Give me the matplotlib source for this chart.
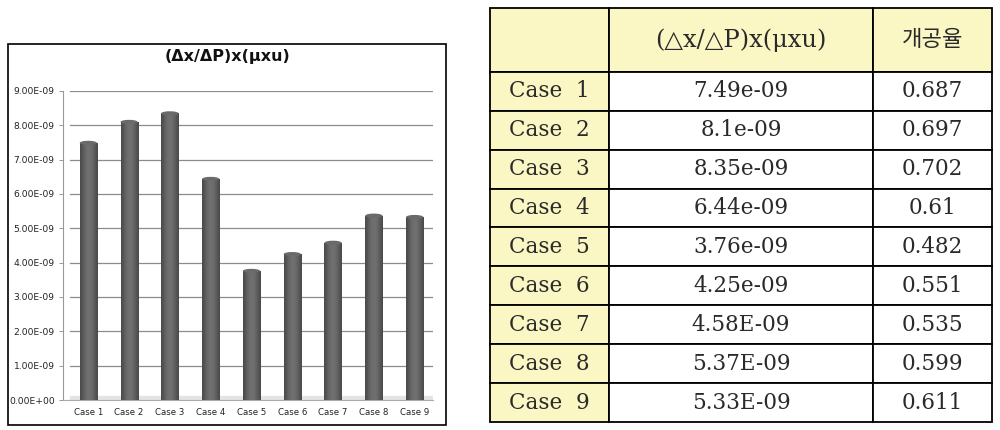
import matplotlib
matplotlib.use("Agg")
import matplotlib.pyplot as plt
import numpy as np
from matplotlib.patches import Rectangle, Ellipse

cases = ["Case 1", "Case 2", "Case 3", "Case 4", "Case 5", "Case 6", "Case 7", "Case 8", "Case 9"]
values = [7.49e-09, 8.1e-09, 8.35e-09, 6.44e-09, 3.76e-09, 4.25e-09, 4.58e-09, 5.37e-09, 5.33e-09]
value_text = ["7.49e-09", "8.1e-09", "8.35e-09", "6.44e-09", "3.76e-09", "4.25e-09",
              "4.58E-09", "5.37E-09", "5.33E-09"]
ratio_text = ["0.687", "0.697", "0.702", "0.61", "0.482", "0.551", "0.535", "0.599", "0.611"]
table_header = ["", "(\u25b3x/\u25b3P)x(\u03bcxu)", "개공율"]
chart_title = "(\u0394x/\u0394P)x(\u03bcxu)"
yticks = [i * 1e-9 for i in range(10)]
ytick_labels = ["0.00E+00", "1.00E-09", "2.00E-09", "3.00E-09", "4.00E-09",
                "5.00E-09", "6.00E-09", "7.00E-09", "8.00E-09", "9.00E-09"]

W, H = 1000, 430
fig = plt.figure(figsize=(10, 4.3), dpi=100)
fig.patch.set_facecolor("white")

def fx(px):
    return px / W

def fy(py):
    return 1 - py / H

# chart frame
frame = Rectangle((fx(8), fy(425)), fx(446 - 8), (425 - 44) / H, transform=fig.transFigure,
                  facecolor="none", edgecolor="black", linewidth=1.2, zorder=5)
fig.patches.append(frame)
fig.text(fx(227), fy(57), chart_title, ha="center", va="center", fontsize=11.5,
         fontweight="bold", family="DejaVu Sans", color="#111111")

ax = fig.add_axes([fx(63), fy(400), fx(433 - 63), (400 - 91) / H])
ax.set_facecolor("none")
x = np.arange(len(cases))
ax.set_yticks(yticks)
ax.set_yticklabels(ytick_labels, fontsize=6.6, color="#222222", family="DejaVu Sans")
ax.set_xticks(x)
ax.set_xticklabels(cases, fontsize=6.2, color="#222222", family="DejaVu Sans")
ax.tick_params(axis="y", length=3, width=0.6, color="#888888", pad=3)
ax.tick_params(axis="x", length=0, pad=6)
for s in ["top", "right"]:
    ax.spines[s].set_visible(False)
ax.spines["left"].set_color("#999999")
ax.spines["left"].set_linewidth(0.8)
ax.spines["bottom"].set_color("#aaaaaa")
ax.spines["bottom"].set_linewidth(0.8)
for t in yticks[1:]:
    ax.axhline(t, xmin=0.02, xmax=1.0, color="#8c8c8c", linewidth=0.9, zorder=1)

# floor
ax.axhspan(0, 0.12e-9, xmin=0.02, xmax=1.0, color="#e4e4e4", zorder=1)

bar_w = 0.42
bars = ax.bar(x, values, width=bar_w, color="#555555", edgecolor="none", zorder=2)
grad = np.linspace(0, 1, 64)
shade = 0.28 + 0.16 * np.sin(np.pi * (grad * 0.9 + 0.05)) ** 1.5
img = np.tile(shade, (2, 1))
for b in bars:
    x0 = b.get_x()
    im = ax.imshow(img, cmap="gray", vmin=0, vmax=1, aspect="auto",
                   extent=[x0, x0 + b.get_width(), 0, b.get_height()], zorder=3,
                   interpolation="bilinear")
    im.set_clip_path(b)
    ax.add_patch(Ellipse((x0 + b.get_width() / 2, b.get_height()),
                         b.get_width(), 0.12e-9, facecolor="#6a6a6a",
                         edgecolor="none", zorder=4))
ax.set_xlim(-0.62, 8.45)
ax.set_ylim(0, 9e-9)

# table
tax = fig.add_axes([fx(490), fy(422), fx(992 - 490), (422 - 8) / H])
tax.axis("off")
rows = [table_header] + [[c, v, r] for c, v, r in zip(cases, value_text, ratio_text)]
tbl = tax.table(cellText=rows, bbox=[0, 0, 1, 1], cellLoc="center",
                colWidths=[119, 264, 119])
tbl.auto_set_font_size(False)
yellow = "#fbf7c4"
fam = ["DejaVu Serif", "DejaVu Sans", "Noto Sans CJK KR"]
for (r, c), cell in tbl.get_celld().items():
    cell.set_height(64 if r == 0 else 39)
    cell.set_linewidth(1.3)
    cell.set_edgecolor("black")
    if r == 0 or c == 0:
        cell.set_facecolor(yellow)
    else:
        cell.set_facecolor("white")
    txt = cell.get_text()
    txt.set_fontsize(15.5)
    txt.set_color("#2a2a2a")
    if r == 0 and c == 2:
        txt.set_family(["Noto Sans CJK KR", "DejaVu Sans"])
        txt.set_fontsize(16)
    elif r == 0 and c == 1:
        txt.set_family(fam)
        txt.set_fontsize(17.5)
    else:
        txt.set_family(fam)
    if c == 0 and r > 0:
        txt.set_text(txt.get_text().replace(" ", "  "))

fig.savefig("out.png", dpi=100, facecolor="white")
